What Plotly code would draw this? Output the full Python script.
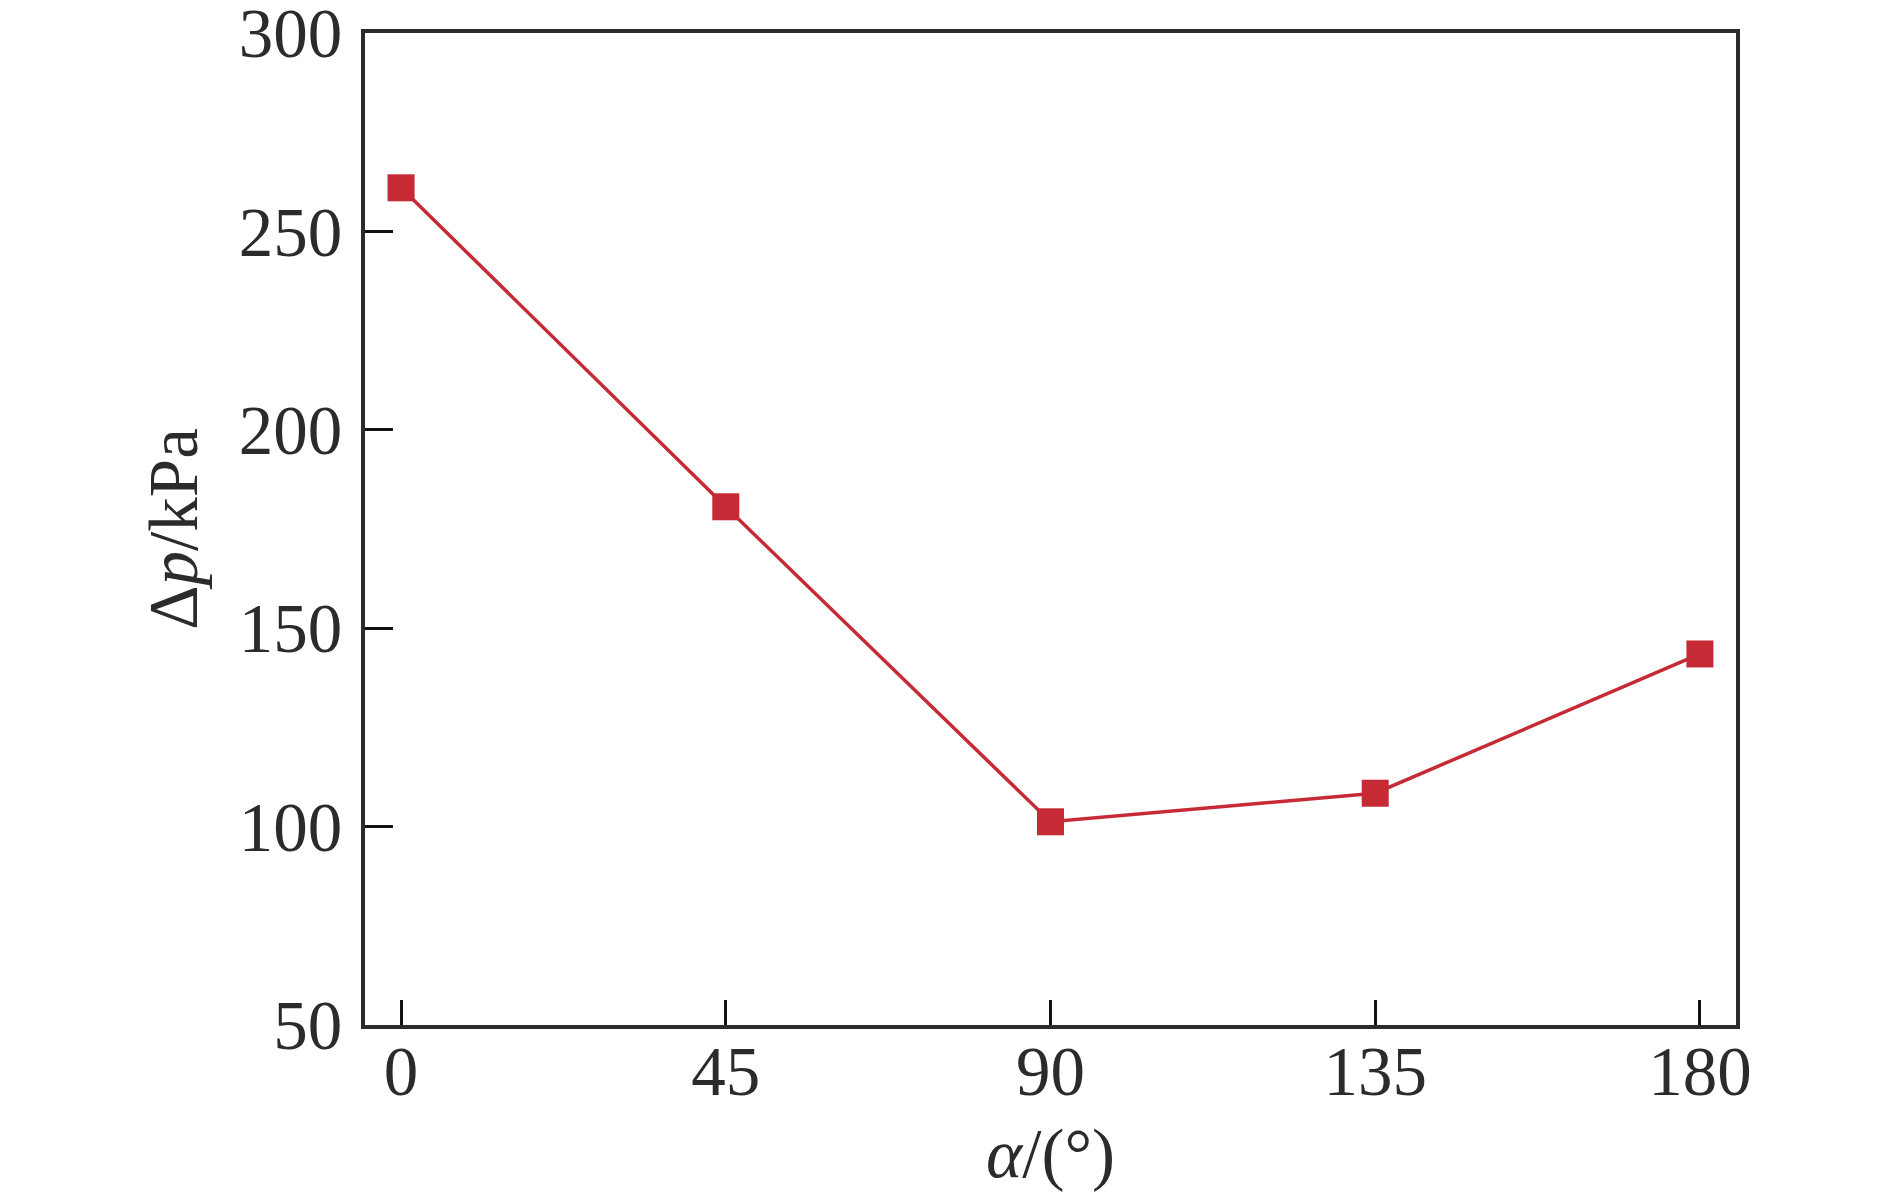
import plotly.graph_objects as go

alpha = [0, 45, 90, 135, 180]
dp = [261.0, 180.6, 101.2, 108.4, 143.5]
x_ticks = [0, 45, 90, 135, 180]
y_ticks = [50, 100, 150, 200, 250, 300]

red = "#c62a35"
axis_col = "#2b2b2b"
font_family = "Liberation Serif, Times New Roman, serif"

fig = go.Figure()
fig.add_trace(go.Scatter(
    x=alpha, y=dp, mode="lines+markers",
    line=dict(color=red, width=3.5),
    marker=dict(symbol="square", size=27, color=red),
    showlegend=False, cliponaxis=False,
))

fig.update_layout(
    width=1882, height=1192,
    margin=dict(l=357, r=154, t=25, b=175),
    paper_bgcolor="white", plot_bgcolor="white",
    font=dict(family=font_family, size=69, color=axis_col),
)
fig.update_xaxes(
    range=[-5, 185], tickvals=x_ticks, ticktext=[str(v) for v in x_ticks],
    ticks="inside", ticklen=25, tickwidth=3, tickcolor="#111",
    showline=True, linewidth=4, linecolor=axis_col, mirror=True,
    showgrid=False, zeroline=False, automargin=False,
    ticklabelstandoff=-17, ticklabeloverflow="allow",
    title=dict(text="<i>α</i>/(°)", font=dict(size=69), standoff=21),
)
fig.update_yaxes(
    range=[49.98, 300.02], tickvals=y_ticks, ticktext=[str(v) for v in y_ticks],
    ticks="inside", ticklen=28, tickwidth=3, tickcolor="#111",
    showline=True, linewidth=4, linecolor=axis_col, mirror=True,
    showgrid=False, zeroline=False, automargin=False,
    ticklabelstandoff=5, ticklabeloverflow="allow",
    title=dict(text="Δ<i>p</i>/kPa", font=dict(size=69), standoff=20),
)

fig.write_html("out.html")
